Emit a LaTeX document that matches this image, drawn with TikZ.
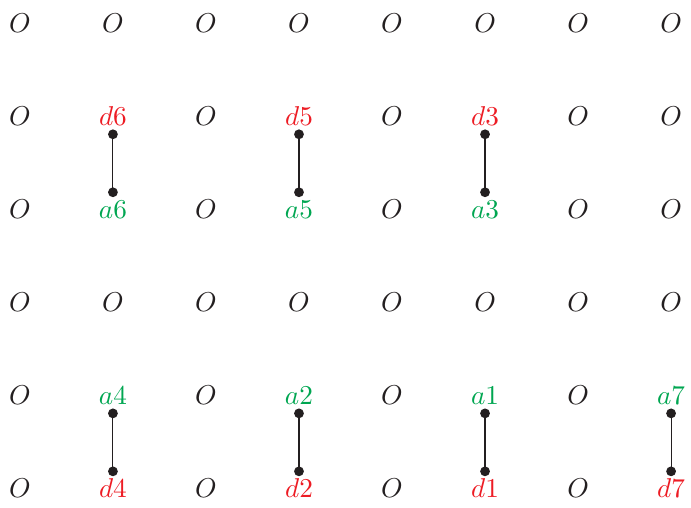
\documentclass[tikz,border=0pt]{standalone}
\usepackage{amsmath}
\definecolor{dred}{RGB}{237,28,36}
\definecolor{agreen}{RGB}{0,166,81}
\definecolor{ink}{RGB}{35,31,32}
\begin{document}
\begin{tikzpicture}[x=1.2cm ,y=-1.2cm ,
cell/.style ={ inner sep=3pt , text height=1.5ex , text depth=0pt , text=ink },
dnode/.style ={ cell , text=dred },
anode/.style ={ cell , text=agreen },
dot/.style ={ circle , fill=ink , inner sep=0pt , minimum size=3.6pt }]
\useasboundingbox (-0.214,-0.255) rectangle (7.214,5.205);
% plain cells
\foreach \r in {0,3}
  \foreach \c in {0,...,7}
    \node[cell] (o\r\c) at (\c,\r) {$O$};
\foreach \r in {1,2,4,5}
  \foreach \c in {0,2,4,6}
    \node[cell] (o\r\c) at (\c,\r) {$O$};
\node[cell] (o17) at (7,1) {$O$};
\node[cell] (o27) at (7,2) {$O$};
% upper pairs
\node[dnode] (d6) at (1,1) {$d6$};
\node[dnode] (d5) at (3,1) {$d5$};
\node[dnode] (d3) at (5,1) {$d3$};
\node[anode] (a6) at (1,2) {$a6$};
\node[anode] (a5) at (3,2) {$a5$};
\node[anode] (a3) at (5,2) {$a3$};
% lower pairs
\node[anode] (a4) at (1,4) {$a4$};
\node[anode] (a2) at (3,4) {$a2$};
\node[anode] (a1) at (5,4) {$a1$};
\node[anode] (a7) at (7,4) {$a7$};
\node[dnode] (d4) at (1,5) {$d4$};
\node[dnode] (d2) at (3,5) {$d2$};
\node[dnode] (d1) at (5,5) {$d1$};
\node[dnode] (d7) at (7,5) {$d7$};
\foreach \d/\a in {d6/a6,d5/a5,d3/a3}
  \draw[ink] (\d.south) node[dot] {} -- (\a.north) node[dot] {};
\foreach \a/\d in {a4/d4,a2/d2,a1/d1,a7/d7}
  \draw[ink] (\a.south) node[dot] {} -- (\d.north) node[dot] {};
\end{tikzpicture}
\end{document}
